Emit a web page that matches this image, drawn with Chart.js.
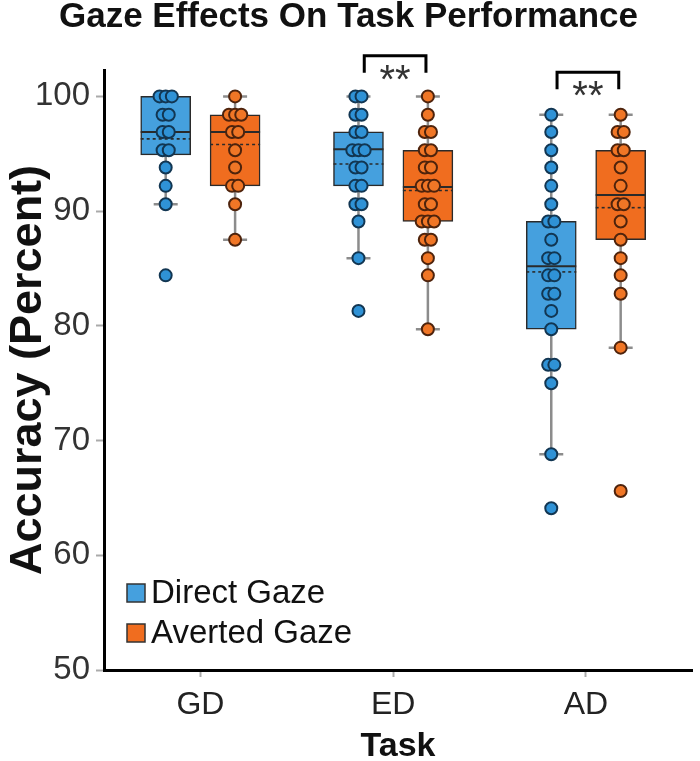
<!DOCTYPE html>
<html>
<head>
<meta charset="utf-8">
<script src="https://cdn.jsdelivr.net/npm/chart.js@4.4.0/dist/chart.umd.min.js"></script>
<style>
  html, body { margin: 0; padding: 0; background: #fff; }
  #wrap { width: 700px; height: 761px; }
</style>
</head>
<body>
<div id="wrap"><canvas id="graficoGaze"></canvas></div>
<script>
const tasks = ['GD', 'ED', 'AD'];
const yTicks = [50, 60, 70, 80, 90, 100];

// box statistics, one value per task
const directQ1 = [94.9, 92.2, 79.7];
const directQ3 = [100, 96.9, 89.1];
const directMedian = [96.9, 95.4, 85.2];
const directMean = [96.3, 94.1, 84.7];
const directLow = [90.6, 85.9, 68.8];
const directHigh = [100, 100, 98.4];

const avertedQ1 = [92.2, 89.1, 87.5];
const avertedQ3 = [98.4, 95.3, 95.3];
const avertedMedian = [96.9, 92.1, 91.4];
const avertedMean = [95.8, 91.8, 90.3];
const avertedLow = [87.5, 79.7, 78.1];
const avertedHigh = [100, 100, 98.4];

// individual scores
const directGD = [100, 100, 100, 98.4, 98.4, 96.9, 96.9, 95.3, 95.3, 93.8, 92.2, 90.6, 84.4];
const directED = [100, 100, 98.4, 98.4, 96.9, 96.9, 95.3, 95.3, 95.3, 93.8, 93.8, 92.2, 92.2, 90.6, 90.6, 89.1, 85.9, 81.3];
const directAD = [98.4, 96.9, 95.3, 93.8, 92.2, 90.6, 89.1, 89.1, 87.5, 85.9, 85.9, 84.4, 84.4, 82.8, 82.8, 81.3, 79.7, 76.6, 76.6, 75.0, 68.8, 64.1];
const avertedGD = [100, 98.4, 98.4, 98.4, 96.9, 96.9, 95.3, 93.8, 92.2, 92.2, 90.6, 87.5];
const avertedED = [100, 98.4, 96.9, 96.9, 95.3, 95.3, 93.8, 93.8, 92.2, 92.2, 92.2, 90.6, 90.6, 89.1, 89.1, 89.1, 87.5, 87.5, 85.9, 84.4, 79.7];
const avertedAD = [98.4, 96.9, 96.9, 95.3, 95.3, 93.8, 92.2, 90.6, 90.6, 89.1, 87.5, 85.9, 84.4, 82.8, 78.1, 65.6];

// significance brackets (task index)
const sigTasks = [1, 2];
const sigLabels = ['**', '**'];
const sigTop = [103.55, 102.1];

const blueFill = '#45a0de';
const bluePoint = '#2f92d6';
const orangeFill = '#f06d1f';
const orangePoint = '#f07626';
const fontFam = "'Liberation Sans', Arial, sans-serif";
const shift = 0.18;

function boxData(q1, q3, off) {
    return tasks.map((t, i) => ({ x: i + 1 + off, y: [q1[i], q3[i]] }));
}

function pointData(groups, off) {
    const out = [];
    groups.forEach((vals, i) => {
        const counts = {};
        vals.forEach(v => { counts[v] = (counts[v] || 0) + 1; });
        const seen = {};
        vals.forEach(v => {
            const k = seen[v] || 0;
            seen[v] = k + 1;
            const j = (k - (counts[v] - 1) / 2) * 0.032;
            out.push({ x: i + 1 + off + j, y: v });
        });
    });
    return out;
}

const stats = {
    'Direct Gaze': { off: -shift, q1: directQ1, q3: directQ3, med: directMedian, mean: directMean, lo: directLow, hi: directHigh },
    'Averted Gaze': { off: shift, q1: avertedQ1, q3: avertedQ3, med: avertedMedian, mean: avertedMean, lo: avertedLow, hi: avertedHigh }
};

const boxExtras = {
    id: 'boxExtras',
    beforeDatasetsDraw(chart) {
        const { ctx, scales: { x, y } } = chart;
        ctx.save();
        ctx.strokeStyle = '#8c8c8c';
        ctx.lineWidth = 2.5;
        Object.values(stats).forEach(s => {
            tasks.forEach((t, i) => {
                const px = x.getPixelForValue(i + 1 + s.off);
                ctx.beginPath();
                ctx.moveTo(px, y.getPixelForValue(s.lo[i]));
                ctx.lineTo(px, y.getPixelForValue(s.hi[i]));
                [s.lo[i], s.hi[i]].forEach(v => {
                    const py = y.getPixelForValue(v);
                    ctx.moveTo(px - 12, py);
                    ctx.lineTo(px + 12, py);
                });
                ctx.stroke();
            });
        });
        ctx.restore();
    },
    afterDatasetDraw(chart, args) {
        const s = stats[chart.data.datasets[args.index].label];
        if (!s) return;
        const { ctx, scales: { y } } = chart;
        ctx.save();
        ctx.strokeStyle = '#2a2a2a';
        args.meta.data.forEach((bar, i) => {
            const half = bar.width / 2;
            ctx.lineWidth = 2;
            ctx.setLineDash([]);
            ctx.beginPath();
            ctx.moveTo(bar.x - half, y.getPixelForValue(s.med[i]));
            ctx.lineTo(bar.x + half, y.getPixelForValue(s.med[i]));
            ctx.stroke();
            ctx.lineWidth = 1.6;
            ctx.setLineDash([3, 3]);
            ctx.beginPath();
            ctx.moveTo(bar.x - half, y.getPixelForValue(s.mean[i]));
            ctx.lineTo(bar.x + half, y.getPixelForValue(s.mean[i]));
            ctx.stroke();
        });
        ctx.restore();
    },
    afterDraw(chart) {
        const { ctx, scales: { x, y } } = chart;
        ctx.save();
        // significance brackets
        sigTasks.forEach((ti, k) => {
            const x1 = x.getPixelForValue(ti + 1 - shift + 0.03);
            const x2 = x.getPixelForValue(ti + 1 + shift - 0.01);
            const yt = y.getPixelForValue(sigTop[k]);
            ctx.strokeStyle = '#000';
            ctx.lineWidth = 3;
            ctx.beginPath();
            ctx.moveTo(x1, yt + 17);
            ctx.lineTo(x1, yt);
            ctx.lineTo(x2, yt);
            ctx.lineTo(x2, yt + 17);
            ctx.stroke();
            ctx.fillStyle = '#333';
            ctx.font = '40px ' + fontFam;
            ctx.textAlign = 'center';
            ctx.textBaseline = 'alphabetic';
            ctx.fillText(sigLabels[k], (x1 + x2) / 2, yt + 37);
        });
        // legend
        chart.data.datasets.filter(d => d.type === 'bar').forEach((d, k) => {
            const ly = 593 + k * 40;
            ctx.fillStyle = d.backgroundColor;
            ctx.strokeStyle = '#333';
            ctx.lineWidth = 1.5;
            ctx.fillRect(127, ly - 9, 18, 18);
            ctx.strokeRect(127, ly - 9, 18, 18);
            ctx.fillStyle = '#111';
            ctx.font = '33px ' + fontFam;
            ctx.textAlign = 'left';
            ctx.textBaseline = 'middle';
            ctx.fillText(d.label, 151, ly + 1);
        });
        ctx.restore();
    }
};

document.addEventListener('DOMContentLoaded', function () {
    const ctx = document.getElementById('graficoGaze').getContext('2d');
    new Chart(ctx, {
        type: 'bar',
        data: {
            datasets: [
                {
                    type: 'scatter',
                    label: 'Direct Gaze points',
                    data: pointData([directGD, directED, directAD], -shift),
                    backgroundColor: bluePoint,
                    borderColor: '#123652',
                    borderWidth: 2,
                    pointRadius: 6,
                    order: 0
                },
                {
                    type: 'scatter',
                    label: 'Averted Gaze points',
                    data: pointData([avertedGD, avertedED, avertedAD], shift),
                    backgroundColor: orangePoint,
                    borderColor: '#4e230c',
                    borderWidth: 2,
                    pointRadius: 6,
                    order: 0
                },
                {
                    type: 'bar',
                    label: 'Direct Gaze',
                    data: boxData(directQ1, directQ3, -shift),
                    backgroundColor: blueFill,
                    borderColor: '#2a2a2a',
                    borderWidth: 1.5,
                    borderSkipped: false,
                    barThickness: 50,
                    grouped: false,
                    order: 1
                },
                {
                    type: 'bar',
                    label: 'Averted Gaze',
                    data: boxData(avertedQ1, avertedQ3, shift),
                    backgroundColor: orangeFill,
                    borderColor: '#2a2a2a',
                    borderWidth: 1.5,
                    borderSkipped: false,
                    barThickness: 50,
                    grouped: false,
                    order: 1
                }
            ]
        },
        options: {
            responsive: true,
            maintainAspectRatio: false,
            animation: false,
            layout: { padding: { top: 0, right: 3, bottom: 0, left: 0 } },
            plugins: {
                legend: { display: false },
                tooltip: { enabled: false },
                title: {
                    display: true,
                    text: 'Gaze Effects On Task Performance',
                    color: '#111',
                    font: { family: fontFam, size: 35, weight: 'bold', lineHeight: 1 },
                    padding: { top: 0, bottom: 35 }
                }
            },
            scales: {
                x: {
                    type: 'linear',
                    min: 0.5,
                    max: 3.55,
                    offset: false,
                    afterBuildTicks: s => { s.ticks = tasks.map((t, i) => ({ value: i + 1 })); },
                    afterFit: s => { s.height = 91; },
                    ticks: {
                        callback: (v, i) => tasks[i],
                        color: '#222',
                        font: { family: fontFam, size: 32 },
                        padding: 9,
                        maxRotation: 0
                    },
                    grid: { offset: false, drawOnChartArea: false, tickLength: 7, tickColor: '#aaa', tickWidth: 2 },
                    border: { display: true, color: '#000', width: 3 },
                    title: {
                        display: true,
                        text: 'Task',
                        color: '#111',
                        font: { family: fontFam, size: 34, weight: 'bold', lineHeight: 1 },
                        padding: { top: 0, bottom: -3 }
                    }
                },
                y: {
                    type: 'linear',
                    min: 50,
                    max: 102.3,
                    afterBuildTicks: s => { s.ticks = yTicks.map(v => ({ value: v })); },
                    afterFit: s => { s.width = 104; },
                    ticks: {
                        color: '#333',
                        font: { family: fontFam, size: 33 },
                        padding: 6
                    },
                    grid: { drawOnChartArea: false, tickLength: 8, tickColor: '#aaa', tickWidth: 2 },
                    border: { display: true, color: '#000', width: 3 },
                    title: {
                        display: true,
                        text: 'Accuracy (Percent)',
                        color: '#111',
                        font: { family: fontFam, size: 45, weight: 'bold', lineHeight: 1 },
                        padding: { top: 6, bottom: 0 }
                    }
                }
            }
        },
        plugins: [boxExtras]
    });
});
</script>
</body>
</html>
